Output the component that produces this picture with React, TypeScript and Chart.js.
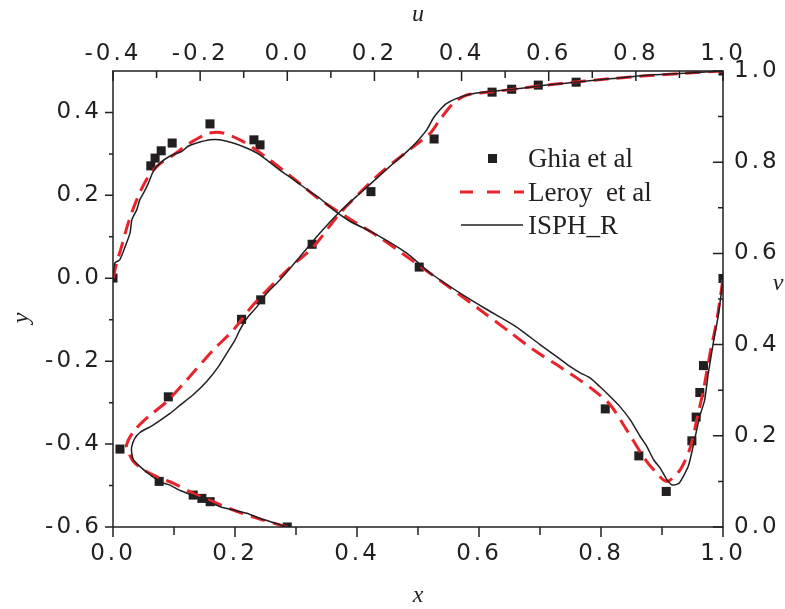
import { useEffect, useRef } from "react";
import { Chart, registerables } from "chart.js";

Chart.register(...registerables);

// u-velocity along vertical centreline: [u, y]
const ghiaU: [number, number][] = [
  [1.0, 0.5], [0.663, 0.473], [0.576, 0.466], [0.515, 0.456], [0.47, 0.449],
  [0.337, 0.336], [0.192, 0.209], [0.057, 0.082], [-0.061, -0.052], [-0.105, -0.099],
  [-0.273, -0.286], [-0.384, -0.412], [-0.294, -0.49], [-0.216, -0.523], [-0.196, -0.531],
  [-0.177, -0.539], [0.0, -0.6],
];
const leroyU: [number, number][] = [
  [0.0, -0.6], [-0.063, -0.581], [-0.124, -0.559], [-0.17, -0.539], [-0.216, -0.519],
  [-0.262, -0.494], [-0.292, -0.482], [-0.33, -0.462], [-0.353, -0.442], [-0.365, -0.418],
  [-0.369, -0.402], [-0.353, -0.37], [-0.319, -0.334], [-0.277, -0.298], [-0.227, -0.241],
  [-0.17, -0.173], [-0.124, -0.125], [-0.078, -0.064], [0.0, 0.02], [0.06, 0.076],
  [0.121, 0.157], [0.213, 0.253], [0.289, 0.317], [0.328, 0.35], [0.35, 0.382],
  [0.381, 0.422], [0.412, 0.442], [0.473, 0.45], [0.595, 0.466], [0.748, 0.482],
  [0.901, 0.494], [1.0, 0.5],
];
const isphU: [number, number][] = [
  [0.0, -0.6], [-0.063, -0.579], [-0.093, -0.567], [-0.124, -0.559], [-0.154, -0.551],
  [-0.177, -0.541], [-0.208, -0.527], [-0.246, -0.512], [-0.269, -0.499], [-0.292, -0.491],
  [-0.315, -0.474], [-0.334, -0.458], [-0.353, -0.438], [-0.357, -0.422], [-0.357, -0.406],
  [-0.35, -0.386], [-0.338, -0.372], [-0.308, -0.354], [-0.269, -0.326], [-0.246, -0.306],
  [-0.216, -0.281], [-0.185, -0.249], [-0.158, -0.213], [-0.139, -0.181], [-0.12, -0.149],
  [-0.109, -0.125], [-0.093, -0.097], [-0.07, -0.069], [-0.047, -0.036], [-0.017, -0.004],
  [0.029, 0.052], [0.075, 0.109], [0.121, 0.161], [0.167, 0.205], [0.205, 0.241],
  [0.243, 0.277], [0.274, 0.305], [0.297, 0.329], [0.32, 0.358], [0.335, 0.386],
  [0.35, 0.406], [0.366, 0.422], [0.389, 0.434], [0.419, 0.444], [0.458, 0.45],
  [0.519, 0.456], [0.595, 0.466], [0.672, 0.474], [0.748, 0.482], [0.825, 0.49],
  [0.901, 0.494], [1.0, 0.5],
];

// v-velocity along horizontal centreline: [x, v]
const ghiaV: [number, number][] = [
  [0.0, 0.546], [0.062, 0.792], [0.069, 0.809], [0.079, 0.825], [0.097, 0.842],
  [0.159, 0.884], [0.231, 0.849], [0.241, 0.838], [0.502, 0.57], [0.807, 0.259],
  [0.862, 0.156], [0.907, 0.078], [0.949, 0.189], [0.956, 0.241], [0.962, 0.295],
  [0.968, 0.354], [1.0, 0.545],
];
const leroyV: [number, number][] = [
  [0.0, 0.545], [0.006, 0.579], [0.014, 0.615], [0.025, 0.667], [0.039, 0.718],
  [0.055, 0.762], [0.072, 0.791], [0.099, 0.816], [0.126, 0.842], [0.159, 0.864],
  [0.181, 0.864], [0.208, 0.849], [0.23, 0.831], [0.257, 0.805], [0.285, 0.776],
  [0.312, 0.747], [0.339, 0.718], [0.383, 0.68], [0.438, 0.634], [0.492, 0.583],
  [0.547, 0.53], [0.602, 0.476], [0.65, 0.428], [0.69, 0.388], [0.733, 0.351],
  [0.76, 0.327], [0.787, 0.301], [0.815, 0.268], [0.842, 0.213], [0.869, 0.155],
  [0.886, 0.126], [0.908, 0.1], [0.93, 0.126], [0.946, 0.173], [0.957, 0.235],
  [0.968, 0.301], [0.979, 0.382], [0.99, 0.455], [1.0, 0.545],
];
const isphV: [number, number][] = [
  [0.0, 0.546], [0.003, 0.579], [0.011, 0.586], [0.02, 0.615], [0.028, 0.645],
  [0.031, 0.674], [0.039, 0.696], [0.044, 0.718], [0.05, 0.732], [0.058, 0.754],
  [0.066, 0.78], [0.077, 0.798], [0.093, 0.813], [0.113, 0.824], [0.123, 0.835],
  [0.137, 0.842], [0.159, 0.849], [0.175, 0.849], [0.197, 0.842], [0.219, 0.831],
  [0.236, 0.82], [0.252, 0.805], [0.274, 0.782], [0.296, 0.762], [0.318, 0.74],
  [0.339, 0.721], [0.361, 0.696], [0.389, 0.67], [0.427, 0.645], [0.481, 0.601],
  [0.52, 0.557], [0.569, 0.513], [0.613, 0.477], [0.66, 0.44], [0.7, 0.4],
  [0.733, 0.368], [0.749, 0.352], [0.766, 0.338], [0.782, 0.327], [0.798, 0.308],
  [0.815, 0.286], [0.831, 0.264], [0.848, 0.235], [0.864, 0.199], [0.875, 0.177],
  [0.886, 0.148], [0.897, 0.129], [0.908, 0.104], [0.917, 0.092], [0.928, 0.096],
  [0.943, 0.133], [0.951, 0.177], [0.962, 0.243], [0.97, 0.279], [0.976, 0.338],
  [0.984, 0.403], [0.992, 0.462], [1.0, 0.542],
];

const bottomTicks = [0, 0.2, 0.4, 0.6, 0.8, 1.0];
const topTicks = [-0.4, -0.2, 0, 0.2, 0.4, 0.6, 0.8, 1.0];
const leftTicks = [-0.6, -0.4, -0.2, 0, 0.2, 0.4];
const rightTicks = [0, 0.2, 0.4, 0.6, 0.8, 1.0];
const bottomMinor = [0.1, 0.3, 0.5, 0.7, 0.9];
const topMinor = [-0.3, -0.1, 0.1, 0.3, 0.5, 0.7, 0.9];
const leftMinor = [-0.5, -0.3, -0.1, 0.1, 0.3];
const rightMinor = [0.1, 0.3, 0.5, 0.7, 0.9];

const legendLabels = ["Ghia et al", "Leroy  et al", "ISPH_R"];

const INK = "#231f20";
const RED = "#e8232a";

const toXY = (arr: [number, number][]) => arr.map(([a, b]) => ({ x: a, y: b }));
const fmt = (v: number) => (Math.abs(v) < 1e-9 ? "0.0" : v.toFixed(1));

const decoPlugin = {
  id: "deco",
  beforeDraw(chart: any) {
    chart.ctx.letterSpacing = "3px";
  },
  afterDraw(chart: any) {
    const ctx = chart.ctx as CanvasRenderingContext2D;
    const { left, right, top, bottom } = chart.chartArea;
    const sx = chart.scales.x, sx2 = chart.scales.x2, sy = chart.scales.y, sy2 = chart.scales.y2;
    ctx.save();
    (ctx as any).letterSpacing = "0px";
    ctx.strokeStyle = INK;
    ctx.lineWidth = 1.5;
    ctx.setLineDash([]);
    ctx.strokeRect(left, top, right - left, bottom - top);
    ctx.beginPath();
    // bottom: outward
    bottomTicks.forEach((v) => { const p = sx.getPixelForValue(v); ctx.moveTo(p, bottom); ctx.lineTo(p, bottom + 10); });
    bottomMinor.forEach((v) => { const p = sx.getPixelForValue(v); ctx.moveTo(p, bottom); ctx.lineTo(p, bottom + 8); });
    // top: inward
    topTicks.forEach((v) => { const p = sx2.getPixelForValue(v); ctx.moveTo(p, top); ctx.lineTo(p, top + 10); });
    topMinor.forEach((v) => { const p = sx2.getPixelForValue(v); ctx.moveTo(p, top); ctx.lineTo(p, top + 7); });
    // left: outward
    leftTicks.forEach((v) => { const p = sy.getPixelForValue(v); ctx.moveTo(left, p); ctx.lineTo(left - 8, p); });
    leftMinor.forEach((v) => { const p = sy.getPixelForValue(v); ctx.moveTo(left, p); ctx.lineTo(left - 4, p); });
    // right: inward
    rightTicks.forEach((v) => { const p = sy2.getPixelForValue(v); ctx.moveTo(right, p); ctx.lineTo(right - 10, p); });
    rightMinor.forEach((v) => { const p = sy2.getPixelForValue(v); ctx.moveTo(right, p); ctx.lineTo(right - 5, p); });
    ctx.stroke();

    // axis titles
    ctx.fillStyle = INK;
    ctx.font = "italic 24px 'Liberation Serif'";
    ctx.textAlign = "center";
    ctx.textBaseline = "middle";
    const cx = (left + right) / 2;
    ctx.fillText("u", cx, 15);
    ctx.fillText("x", cx, 596);
    ctx.save();
    ctx.translate(22, 318);
    ctx.rotate(-Math.PI / 2);
    ctx.fillText("y", 0, 0);
    ctx.restore();
    ctx.fillText("v", 778, 284);

    // legend
    const lx = 528;
    ctx.font = "27px 'Liberation Serif'";
    ctx.textAlign = "left";
    ctx.textBaseline = "alphabetic";
    ctx.fillRect(488, 154, 9, 9);
    ctx.fillText(legendLabels[0], lx, 167);
    ctx.strokeStyle = RED;
    ctx.lineWidth = 3;
    ctx.setLineDash([13, 14]);
    ctx.beginPath();
    ctx.moveTo(460, 192);
    ctx.lineTo(524, 192);
    ctx.stroke();
    ctx.fillText(legendLabels[1], lx, 201);
    ctx.setLineDash([]);
    ctx.strokeStyle = INK;
    ctx.lineWidth = 1.5;
    ctx.beginPath();
    ctx.moveTo(461, 225);
    ctx.lineTo(523, 225);
    ctx.stroke();
    ctx.fillText(legendLabels[2], lx, 234);
    ctx.restore();
  },
};

export default function App() {
  const ref = useRef<HTMLCanvasElement | null>(null);
  useEffect(() => {
    document.body.style.margin = "0";
    const canvas = ref.current!;
    const tickFont = { family: "'DejaVu Sans'", size: 23 };
    const chart = new Chart(canvas, {
      type: "scatter",
      data: {
        datasets: [
          {
            label: "ISPH_R u", data: toXY(isphU), xAxisID: "x2", yAxisID: "y",
            showLine: true, borderColor: INK, borderWidth: 1.5, pointRadius: 0, tension: 0.2,
          },
          {
            label: "ISPH_R v", data: toXY(isphV), xAxisID: "x", yAxisID: "y2",
            showLine: true, borderColor: INK, borderWidth: 1.5, pointRadius: 0, tension: 0.2,
          },
          {
            label: "Leroy u", data: toXY(leroyU), xAxisID: "x2", yAxisID: "y",
            showLine: true, borderColor: RED, borderWidth: 3, borderDash: [15, 8], pointRadius: 0, tension: 0.3,
          },
          {
            label: "Leroy v", data: toXY(leroyV), xAxisID: "x", yAxisID: "y2",
            showLine: true, borderColor: RED, borderWidth: 3, borderDash: [15, 8], pointRadius: 0, tension: 0.3,
          },
          {
            label: "Ghia u", data: toXY(ghiaU), xAxisID: "x2", yAxisID: "y",
            showLine: false, pointStyle: "rect", pointRadius: 6.4, backgroundColor: INK, borderWidth: 0, clip: 0,
          },
          {
            label: "Ghia v", data: toXY(ghiaV), xAxisID: "x", yAxisID: "y2",
            showLine: false, pointStyle: "rect", pointRadius: 6.4, backgroundColor: INK, borderWidth: 0, clip: 0,
          },
        ] as any,
      },
      options: {
        responsive: false,
        animation: false,
        layout: { padding: 0 },
        plugins: { legend: { display: false }, tooltip: { enabled: false } },
        scales: {
          x: {
            type: "linear", position: "bottom", min: 0, max: 1,
            grid: { display: false, drawTicks: false }, border: { display: false },
            afterBuildTicks: (s: any) => { s.ticks = bottomTicks.map((value) => ({ value })); },
            afterFit: (s: any) => { s.height = 82; },
            ticks: { font: tickFont, color: INK, padding: 13, maxRotation: 0, autoSkip: false, callback: (v: any) => fmt(Number(v)) },
          },
          x2: {
            type: "linear", position: "top", min: -0.4, max: 1,
            grid: { display: false, drawTicks: false }, border: { display: false },
            afterBuildTicks: (s: any) => { s.ticks = topTicks.map((value) => ({ value })); },
            afterFit: (s: any) => { s.height = 71; },
            ticks: { font: tickFont, color: INK, padding: 3, maxRotation: 0, autoSkip: false, callback: (v: any) => fmt(Number(v)) },
          },
          y: {
            type: "linear", position: "left", min: -0.6, max: 0.5,
            grid: { display: false, drawTicks: false }, border: { display: false },
            afterBuildTicks: (s: any) => { s.ticks = leftTicks.map((value) => ({ value })); },
            afterFit: (s: any) => { s.width = 113; },
            ticks: { font: tickFont, color: INK, padding: 11, autoSkip: false, callback: (v: any) => fmt(Number(v)) },
          },
          y2: {
            type: "linear", position: "right", min: 0, max: 1,
            grid: { display: false, drawTicks: false }, border: { display: false },
            afterBuildTicks: (s: any) => { s.ticks = rightTicks.map((value) => ({ value })); },
            afterFit: (s: any) => { s.width = 62; },
            ticks: { font: tickFont, color: INK, padding: 11, autoSkip: false, callback: (v: any) => fmt(Number(v)) },
          },
        },
      } as any,
      plugins: [decoPlugin],
    });
    return () => chart.destroy();
  }, []);
  return (
    <div style={{ position: "absolute", left: 0, top: 0, width: 785, height: 609, background: "#fff" }}>
      <canvas ref={ref} width={785} height={609} style={{ width: 785, height: 609, display: "block" }} />
    </div>
  );
}
